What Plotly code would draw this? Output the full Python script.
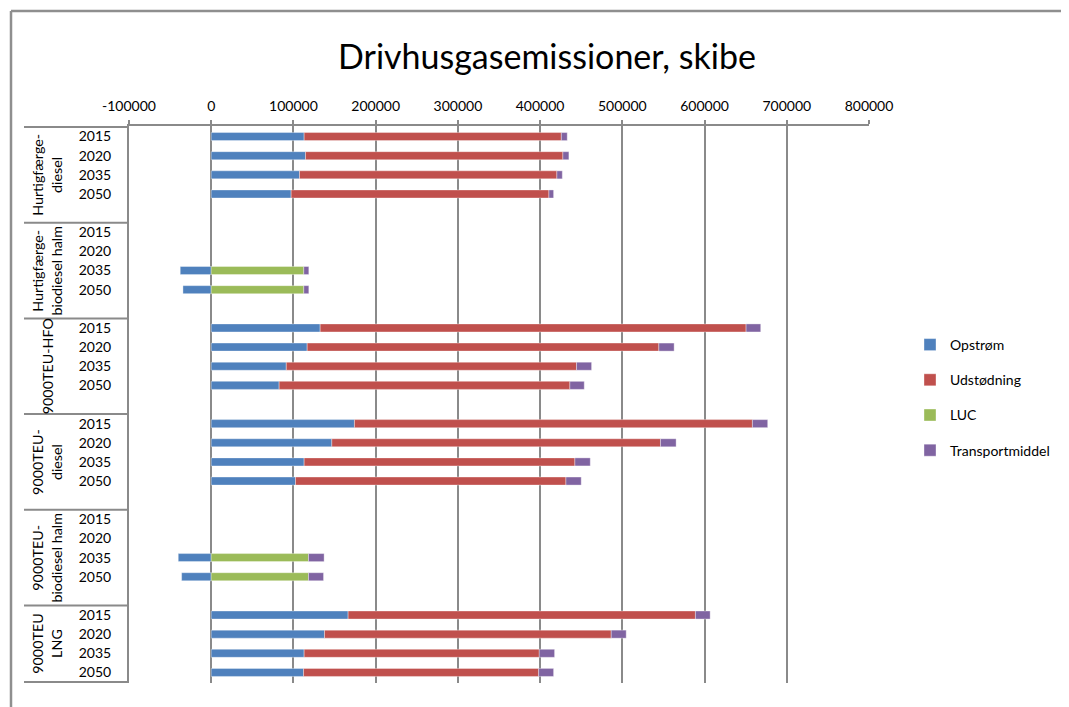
import plotly.graph_objects as go

# ---- data ----
groups = ["Hurtigfærge-diesel", "Hurtigfærge-biodiesel halm", "9000TEU-HFO",
          "9000TEU-diesel", "9000TEU-biodiesel halm", "9000TEU LNG"]
group_labels = ["Hurtigfærge-<br>diesel", "Hurtigfærge-<br>biodiesel halm", "9000TEU-HFO",
                "9000TEU-<br>diesel", "9000TEU-<br>biodiesel halm", "9000TEU<br>LNG"]
years = ["2015", "2020", "2035", "2050"]

# values per group, per year (2015, 2020, 2035, 2050)
opstroem = [
    [113000, 114700, 107400, 97200],
    [None, None, -37700, -34400],
    [132500, 116700, 91300, 82600],
    [174200, 146700, 113000, 102500],
    [None, None, -40100, -36000],
    [166500, 137800, 113000, 112300],
]
udstoedning = [
    [312800, 313000, 313000, 313500],
    [None, None, None, None],
    [518000, 427700, 353000, 353600],
    [484000, 399700, 329300, 328900],
    [None, None, None, None],
    [422400, 348700, 286000, 285900],
]
luc = [
    [None, None, None, None],
    [None, None, 112600, 112600],
    [None, None, None, None],
    [None, None, None, None],
    [None, None, 118300, 118300],
    [None, None, None, None],
]
transport = [
    [7200, 7300, 6600, 5700],
    [None, None, 6100, 6100],
    [17800, 18600, 18300, 17500],
    [18600, 19000, 18700, 18600],
    [None, None, 19000, 18300],
    [17900, 18200, 18600, 18200],
]

series_names = ["Opstrøm", "Udstødning", "LUC", "Transportmiddel"]
series_values = [opstroem, udstoedning, luc, transport]
series_colors = ["#4F81BD", "#C0504D", "#9BBB59", "#8064A2"]

x_ticks = list(range(-100000, 800001, 100000))

# ---- build categories (with an empty spacer row between groups) ----
cats, tick_text = [], []
group_span = []
for gi, g in enumerate(groups):
    start = len(cats)
    for y in years:
        cats.append(f"{g}|{y}")
        tick_text.append(y)
    if gi < len(groups) - 1:
        cats.append(f"{g}|gap")
        tick_text.append("")
    group_span.append((start, len(cats) - 1))

def flatten(vals):
    out = []
    for gi, g in enumerate(groups):
        out.extend(vals[gi])
        if gi < len(groups) - 1:
            out.append(None)
    return out

FONT = "Lato"
GRID = "#8a8a8a"

fig = go.Figure()
for name, vals, col in zip(series_names, series_values, series_colors):
    fig.add_trace(go.Bar(
        y=cats, x=flatten(vals), orientation="h", name=name,
        marker=dict(color=col, line=dict(width=0.6, color="rgba(255,255,255,0.6)")),
        legendgroup=name,
    ))

# page has an 8px body margin; work in page pixel coords and shift
OFF = 8
W, H = 1069 - OFF, 707 - OFF
L, R, T, B = 129 - OFF, 869 - OFF, 126 - OFF, 683 - OFF
pw, ph = R - L, B - T
def xp(px):
    return (px - OFF - L) / pw
def yp(py):
    return (B - (py - OFF)) / ph

shapes = []
for gi, (s, e) in enumerate(group_span):
    shapes.append(dict(type="line", xref="paper", yref="y", x0=xp(24), x1=0,
                       y0=s - 0.5, y1=s - 0.5, line=dict(color=GRID, width=2)))
shapes.append(dict(type="line", xref="paper", yref="y", x0=xp(24), x1=0,
                   y0=len(cats) - 0.5, y1=len(cats) - 0.5, line=dict(color=GRID, width=2)))
# outer chart frame (cropped at right/bottom)
shapes.append(dict(type="line", xref="paper", yref="paper", x0=xp(11), x1=xp(1090),
                   y0=yp(11), y1=yp(11), line=dict(color="#8f8f8f", width=2.5)))
shapes.append(dict(type="line", xref="paper", yref="paper", x0=xp(11), x1=xp(11),
                   y0=yp(11), y1=yp(730), line=dict(color="#8f8f8f", width=2.5)))

annotations = []
for gi, (s, e) in enumerate(group_span):
    annotations.append(dict(text=group_labels[gi], xref="paper", yref="y",
                            x=xp(47), y=(s + e) / 2, textangle=-90, showarrow=False,
                            font=dict(family=FONT, size=14.3, color="black"),
                            xanchor="center", yanchor="middle"))
annotations.append(dict(text="Drivhusgasemissioner, skibe", xref="paper", yref="paper",
                        x=xp(547), y=yp(55), showarrow=False, xanchor="center", yanchor="middle",
                        font=dict(family=FONT, size=34, color="black")))

fig.update_layout(
    width=W, height=H,
    margin=dict(l=L, r=W - R, t=T, b=H - B, autoexpand=False),
    barmode="relative", bargap=0.58,
    plot_bgcolor="white", paper_bgcolor="white",
    font=dict(family=FONT, size=14, color="black"),
    showlegend=True,
    legend=dict(x=xp(910), y=yp(329), xanchor="left", yanchor="top",
                font=dict(family=FONT, size=14), tracegroupgap=14,
                bgcolor="rgba(0,0,0,0)"),
    shapes=shapes, annotations=annotations,
)
fig.update_xaxes(side="top", range=[-100000, 800000], tickvals=x_ticks,
                 ticktext=[str(v) for v in x_ticks],
                 showgrid=True, gridcolor=GRID, gridwidth=2,
                 zeroline=True, zerolinecolor=GRID, zerolinewidth=2,
                 showline=True, linecolor=GRID, linewidth=2,
                 ticks="outside", ticklen=4, tickcolor=GRID, tickwidth=2,
                 ticklabelstandoff=3, fixedrange=True)
fig.update_yaxes(type="category", categoryorder="array", categoryarray=cats,
                 autorange="reversed", tickvals=cats, ticktext=tick_text,
                 showgrid=False, showline=True, linecolor=GRID, linewidth=2,
                 ticks="", ticklabelstandoff=13, fixedrange=True)

fig.write_html("out.html")
